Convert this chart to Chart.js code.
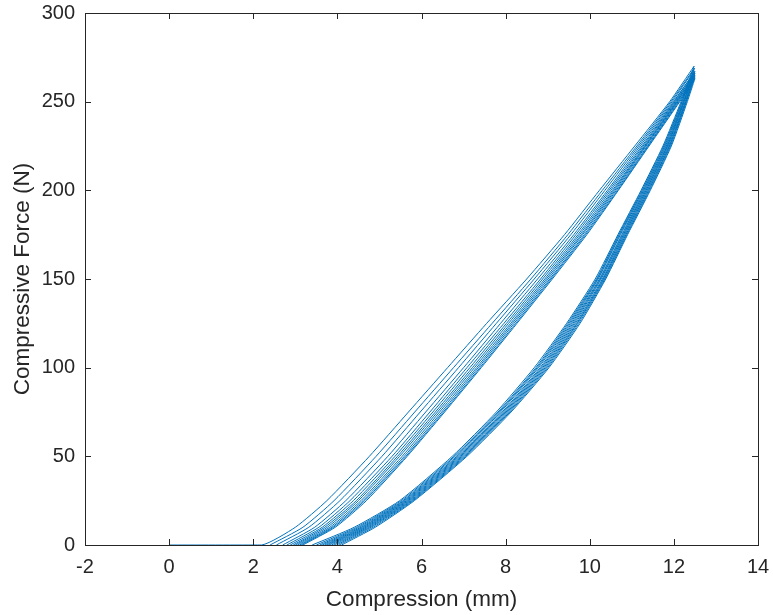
<!DOCTYPE html>
<html>
<head>
<meta charset="utf-8">
<script src="https://cdn.jsdelivr.net/npm/chart.js@4.4.1/dist/chart.umd.min.js"></script>
<style>
  body { margin: 0; background: #fff; }
</style>
</head>
<body>
<canvas id="myChart" width="773" height="615"></canvas>
<script>
const forceLevels = [0, 10, 25, 50, 75, 100, 125, 150, 175, 200, 225, 250];

// compression (mm) of each loading branch at those force levels
const loadX = [
  [2.20, 3.00, 3.75, 4.76, 5.69, 6.62, 7.55, 8.50, 9.40, 10.23, 11.07, 11.90],
  [2.40, 3.18, 3.92, 4.92, 5.84, 6.76, 7.68, 8.60, 9.48, 10.30, 11.12, 11.93],
  [2.55, 3.32, 4.06, 5.06, 5.97, 6.88, 7.78, 8.68, 9.55, 10.36, 11.16, 11.96],
  [2.70, 3.46, 4.20, 5.20, 6.10, 7.00, 7.88, 8.76, 9.62, 10.42, 11.20, 11.99],
  [2.80, 3.56, 4.30, 5.30, 6.20, 7.08, 7.96, 8.83, 9.67, 10.46, 11.24, 12.01],
  [2.88, 3.64, 4.38, 5.37, 6.27, 7.15, 8.02, 8.88, 9.72, 10.50, 11.27, 12.03],
  [2.95, 3.70, 4.45, 5.43, 6.33, 7.21, 8.07, 8.93, 9.76, 10.54, 11.30, 12.05],
  [3.00, 3.76, 4.50, 5.48, 6.38, 7.26, 8.12, 8.97, 9.80, 10.57, 11.32, 12.07],
  [3.05, 3.82, 4.56, 5.54, 6.43, 7.31, 8.16, 9.01, 9.83, 10.60, 11.34, 12.08],
  [3.10, 3.87, 4.61, 5.59, 6.48, 7.35, 8.20, 9.05, 9.87, 10.63, 11.37, 12.10],
  [3.14, 3.91, 4.65, 5.63, 6.52, 7.39, 8.24, 9.08, 9.90, 10.66, 11.39, 12.12],
  [3.18, 3.95, 4.69, 5.66, 6.55, 7.42, 8.27, 9.11, 9.93, 10.68, 11.41, 12.14]
];

// compression (mm) of each unloading branch at the same force levels
const unloadX = [
  [3.40, 4.40, 5.48, 6.73, 7.78, 8.68, 9.45, 10.13, 10.67, 11.22, 11.74, 12.17],
  [3.50, 4.46, 5.52, 6.77, 7.82, 8.72, 9.48, 10.16, 10.69, 11.24, 11.76, 12.19],
  [3.58, 4.51, 5.56, 6.80, 7.85, 8.75, 9.51, 10.18, 10.71, 11.26, 11.78, 12.20],
  [3.64, 4.56, 5.59, 6.84, 7.88, 8.78, 9.54, 10.20, 10.73, 11.28, 11.80, 12.22],
  [3.70, 4.60, 5.62, 6.87, 7.92, 8.82, 9.57, 10.23, 10.76, 11.30, 11.82, 12.23],
  [3.75, 4.64, 5.65, 6.90, 7.95, 8.85, 9.60, 10.25, 10.78, 11.32, 11.84, 12.24],
  [3.80, 4.68, 5.68, 6.93, 7.98, 8.88, 9.63, 10.27, 10.80, 11.34, 11.85, 12.25],
  [3.86, 4.72, 5.71, 6.96, 8.01, 8.91, 9.66, 10.30, 10.82, 11.36, 11.87, 12.27],
  [3.92, 4.76, 5.74, 6.99, 8.04, 8.94, 9.69, 10.32, 10.84, 11.38, 11.89, 12.28],
  [3.98, 4.80, 5.77, 7.02, 8.07, 8.97, 9.71, 10.34, 10.86, 11.40, 11.90, 12.29],
  [4.04, 4.85, 5.80, 7.05, 8.10, 9.00, 9.74, 10.36, 10.88, 11.42, 11.92, 12.30],
  [4.10, 4.90, 5.83, 7.08, 8.13, 9.03, 9.77, 10.38, 10.90, 11.44, 11.94, 12.32]
];

// peak of each cycle
const peakX = [12.48, 12.49, 12.48, 12.50, 12.49, 12.50, 12.49, 12.50, 12.48, 12.50, 12.49, 12.50];
const peakF = [270, 269, 268, 267, 267, 266, 266, 265, 265, 264, 264, 263];

const xTicks = [-2, 0, 2, 4, 6, 8, 10, 12, 14];
const yTicks = [0, 50, 100, 150, 200, 250, 300];

const lineColor = '#0072BD';
const axisColor = '#262626';

// build datasets: one for loading, one for unloading per cycle
const datasets = [];
for (let c = 0; c < loadX.length; c++) {
  let up = forceLevels.map((f, i) => ({ x: loadX[c][i], y: f }));
  if (c === 0) up.unshift({ x: 0, y: 0 }); // test starts at zero compression
  up.push({ x: peakX[c], y: peakF[c] });
  let down = [{ x: peakX[c], y: peakF[c] }];
  for (let i = forceLevels.length - 1; i >= 0; i--) {
    down.push({ x: unloadX[c][i], y: forceLevels[i] });
  }
  datasets.push({ data: up }, { data: down });
}
datasets.forEach(d => {
  d.showLine = true;
  d.borderColor = lineColor;
  d.borderWidth = 1;
  d.pointRadius = 0;
  d.tension = 0.2;
  d.fill = false;
});

// MATLAB style box with inward ticks
const boxPlugin = {
  id: 'box',
  afterDraw(chart) {
    const { ctx, chartArea: a, scales } = chart;
    const len = 6;
    ctx.save();
    ctx.strokeStyle = axisColor;
    ctx.lineWidth = 1;
    ctx.strokeRect(a.left + 0.5, a.top + 0.5, a.right - a.left, a.bottom - a.top);
    ctx.beginPath();
    xTicks.forEach(v => {
      const px = Math.round(scales.x.getPixelForValue(v)) + 0.5;
      ctx.moveTo(px, a.bottom); ctx.lineTo(px, a.bottom - len);
      ctx.moveTo(px, a.top); ctx.lineTo(px, a.top + len);
    });
    yTicks.forEach(v => {
      const py = Math.round(scales.y.getPixelForValue(v)) + 0.5;
      ctx.moveTo(a.left, py); ctx.lineTo(a.left + len, py);
      ctx.moveTo(a.right, py); ctx.lineTo(a.right - len, py);
    });
    ctx.stroke();
    ctx.restore();
  }
};

const font = 'Liberation Sans, Arial, Helvetica, sans-serif';

const config = {
  type: 'scatter',
  data: { datasets: datasets },
  options: {
    responsive: false,
    animation: false,
    layout: { padding: { top: 13, right: 15, left: 0, bottom: 0 } },
    plugins: {
      legend: { display: false },
      tooltip: { enabled: false }
    },
    scales: {
      x: {
        type: 'linear',
        min: -2,
        max: 14,
        afterBuildTicks: s => { s.ticks = xTicks.map(v => ({ value: v })); },
        afterFit: s => { s.height = 70; s.paddingLeft = 0; s.paddingRight = 0; },
        grid: { display: false, drawTicks: false },
        border: { display: false },
        ticks: { color: axisColor, padding: 10, font: { family: font, size: 20 } },
        title: {
          display: true,
          text: 'Compression (mm)',
          color: axisColor,
          padding: { top: 0, bottom: 2 },
          font: { family: font, size: 22.5 }
        }
      },
      y: {
        type: 'linear',
        min: 0,
        max: 300,
        afterBuildTicks: s => { s.ticks = yTicks.map(v => ({ value: v })); },
        afterFit: s => { s.width = 85; s.paddingTop = 0; s.paddingBottom = 0; },
        grid: { display: false, drawTicks: false },
        border: { display: false },
        ticks: { color: axisColor, padding: 10, font: { family: font, size: 20 } },
        title: {
          display: true,
          text: 'Compressive Force (N)',
          color: axisColor,
          padding: { top: 9, bottom: 0 },
          font: { family: font, size: 22.5 }
        }
      }
    }
  },
  plugins: [boxPlugin]
};

let ctx = document.getElementById('myChart').getContext('2d');
let myChart = new Chart(ctx, config);
</script>
</body>
</html>
